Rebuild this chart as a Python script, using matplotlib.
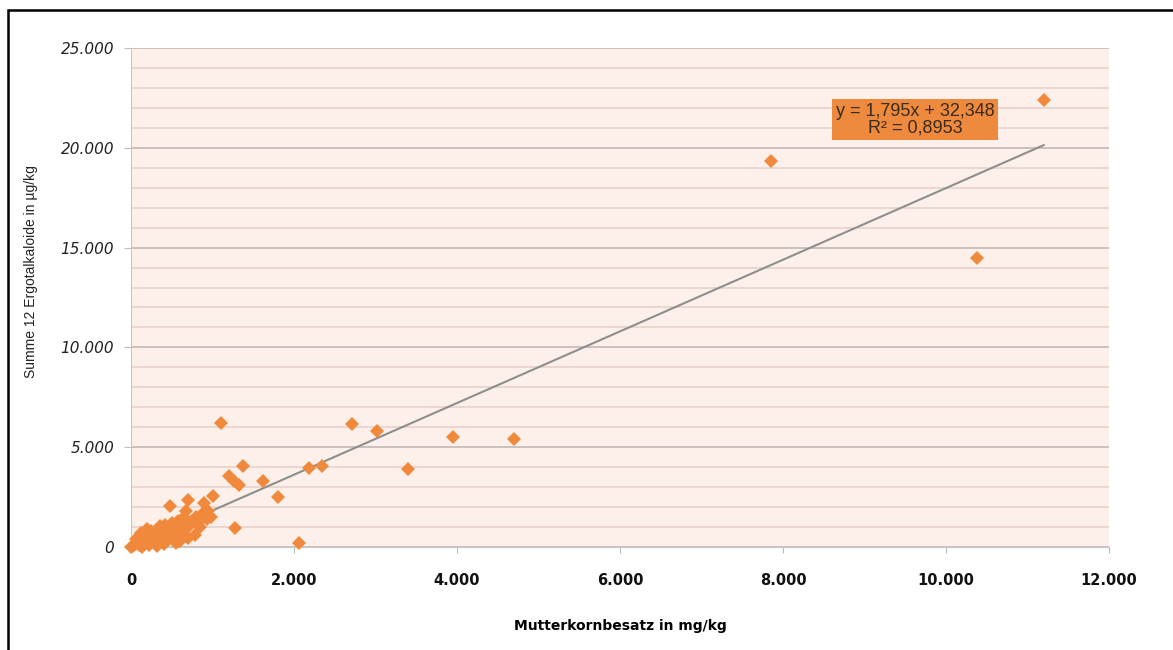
import matplotlib
matplotlib.use("Agg")
import matplotlib.pyplot as plt
from matplotlib.patches import Rectangle
from matplotlib.ticker import FuncFormatter, MultipleLocator

# Mutterkornbesatz (mg/kg) und Summe 12 Ergotalkaloide (µg/kg)
mutterkorn = [
    0, 30, 50, 80, 100, 120, 150, 180, 200, 220, 250, 280, 300, 320, 350,
    380, 400, 420, 450, 480, 500, 520, 550, 580, 600, 620, 650, 680, 700,
    720, 750, 780, 800, 820, 850, 880, 900, 930, 950, 980, 1000, 200, 150,
    60, 250, 350, 450, 550, 650, 700, 400, 130, 330, 600,
    1100, 1200, 1260, 1320, 1280, 1380, 1620, 1800, 2060, 2180, 2345,
    2710, 3020, 3400, 3950, 4700, 7850, 10380, 11200,
]
ergot = [
    0, 50, 150, 300, 80, 700, 400, 250, 600, 100, 800, 500, 350, 50, 700,
    900, 600, 1100, 800, 2050, 1200, 500, 900, 1300, 650, 1000, 1500, 1800, 2350,
    1100, 1300, 600, 1500, 1200, 1000, 1700, 2200, 1400, 1800, 1500, 2550, 900, 600,
    400, 300, 1050, 400, 200, 800, 450, 150, 0, 200, 300,
    6200, 3550, 3300, 3100, 970, 4070, 3310, 2530, 220, 3950, 4070,
    6160, 5820, 3900, 5500, 5400, 19350, 14500, 22400,
]

# Trendlinie laut Diagramm
steigung = 1.795
achsenabschnitt = 32.348
r_quadrat = 0.8953

x_ticks = [0, 2000, 4000, 6000, 8000, 10000, 12000]
y_ticks = [0, 5000, 10000, 15000, 20000, 25000]

ORANGE = "#F0893B"


def punkt_format(v, pos):
    return "{:,.0f}".format(v).replace(",", ".")


def komma(v, n):
    return "{:.{}f}".format(v, n).replace(".", ",")


fig = plt.figure(figsize=(11.73, 6.5), dpi=100)
ax = fig.add_axes([131 / 1173, 1 - 547 / 650, (1109 - 131) / 1173, (547 - 48) / 650])
ax.set_facecolor("#FDF0EB")

ax.set_xlim(0, 12000)
ax.set_ylim(0, 25000)
ax.set_xticks(x_ticks)
ax.set_yticks(y_ticks)
ax.yaxis.set_minor_locator(MultipleLocator(1000))
ax.xaxis.set_major_formatter(FuncFormatter(punkt_format))
ax.yaxis.set_major_formatter(FuncFormatter(punkt_format))

ax.grid(axis="y", which="minor", color="#E8D3CB", linewidth=1.2)
ax.grid(axis="y", which="major", color="#C6BEBA", linewidth=1.3)
ax.set_axisbelow(True)

for s in ["top", "right"]:
    ax.spines[s].set_visible(False)
ax.spines["left"].set_color("#C8C8C8")
ax.spines["bottom"].set_color("#C8C8C8")

ax.tick_params(axis="y", which="major", length=5, color="#BBBBBB", pad=7,
               labelsize=11, labelcolor="#222222")
ax.tick_params(axis="y", which="minor", length=0)
ax.tick_params(axis="x", which="major", length=4, color="#BBBBBB", pad=15,
               labelsize=10.5, labelcolor="#111111")
for lab in ax.get_yticklabels():
    lab.set_fontstyle("italic")
for lab in ax.get_xticklabels():
    lab.set_fontweight("bold")

# Trendlinie
x_end = max(mutterkorn)
ax.plot([0, x_end], [achsenabschnitt, steigung * x_end + achsenabschnitt],
        color="#8E8E8E", linewidth=1.5, zorder=2)

ax.plot(mutterkorn, ergot, linestyle="none", marker="D", markersize=7.4,
        color=ORANGE, markeredgewidth=0, zorder=3, clip_on=False)

gleichung = "y = {}x + {}\nR² = {}".format(komma(steigung, 3), komma(achsenabschnitt, 3),
                                          komma(r_quadrat, 4))
ax.text(9620, 21420, gleichung,
        ha="center", va="center", fontsize=13, family="Liberation Sans",
        color="#3A2A1C", linespacing=0.95, zorder=4,
        bbox=dict(boxstyle="square,pad=0.2", facecolor="#EE8A3E", edgecolor="none"))

ax.set_xlabel("Mutterkornbesatz in mg/kg", fontsize=10, fontweight="bold", labelpad=22)
fig.text(31 / 1173, 1 - 272 / 650, "Summe 12 Ergotalkaloide in µg/kg", rotation=90,
         ha="center", va="center", fontsize=10, family="Liberation Sans", color="#222222")

# Rahmen um die Grafik (links und oben sichtbar)
fig.patches.append(Rectangle((8 / 1173, -0.1), 1.2, 1.1 - 10 / 650, fill=False,
                             edgecolor="black", linewidth=1.8, transform=fig.transFigure))

fig.savefig("out.png", dpi=100)
